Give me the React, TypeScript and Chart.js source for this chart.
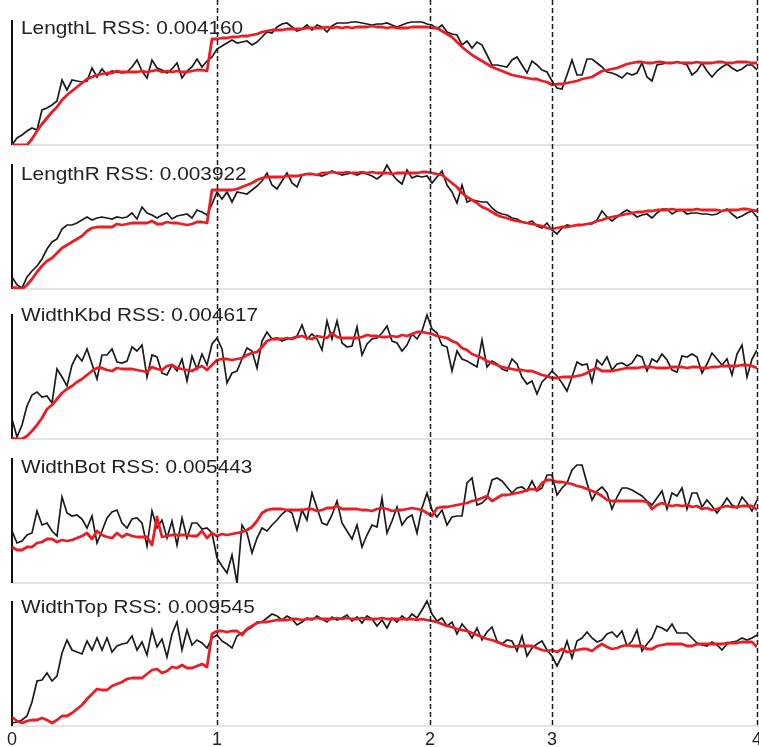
import React, { useEffect, useRef } from "react";
import { Chart, registerables } from "chart.js";

Chart.register(...registerables);

const FONT = '"Liberation Sans", Arial, Helvetica, sans-serif';

// x axis: sample index; phase boundaries labelled 0..4
const phaseTickSamples = [0, 41, 83.6, 108, 149];
const phaseTickLabels = ["0", "1", "2", "3", "4"];

const panelNames = ["LengthL", "LengthR", "WidthKbd", "WidthBot", "WidthTop"];
const panelRss = ["0.004160", "0.003922", "0.004617", "0.005443", "0.009545"];

// ---- LengthL ----
const lengthLMeasured = [
  0, 7, 10, 14, 17, 15, 35, 37, 40, 44,
  65, 55, 65, 64, 63, 64, 77, 68, 76, 70,
  74, 73, 72, 73, 78, 85, 74, 67, 85, 77,
  75, 72, 76, 82, 67, 74, 78, 86, 78, 84,
  88, 96, 99, 102, 105, 102, 103, 104, 100, 103,
  108, 113, 112, 118, 121, 122, 118, 114, 116, 120,
  115, 120, 118, 113, 119, 122, 122, 122, 123, 123,
  122, 121, 120, 121, 121, 122, 120, 118, 120, 122,
  123, 123, 123, 121, 120, 116, 120, 113, 111, 110,
  100, 104, 97, 103, 100, 90, 80, 80, 79, 78,
  85, 88, 80, 72, 84, 80, 75, 73, 64, 57,
  56, 70, 85, 70, 70, 86, 86, 82, 78, 73,
  72, 70, 67, 72, 70, 72, 82, 68, 64, 80,
  81, 82, 82, 83, 82, 80, 70, 74, 82, 74,
  68, 74, 78, 81, 77, 74, 76, 80, 80, 75,
];
const lengthLModel = [
  0, 0, 0, 0, 6, 14, 21, 27, 33, 38,
  45, 50, 54, 58, 62, 66, 68, 70, 71, 72,
  72, 74, 73, 73, 73, 73, 74, 73, 74, 75,
  73, 74, 73, 74, 73, 73, 74, 75, 75, 74,
  106, 106, 107, 107, 108, 108, 109, 109, 110, 111,
  113, 114, 115, 115, 115, 116, 116, 116, 116, 117,
  117, 117, 117, 118, 117, 118, 117, 118, 117, 118,
  118, 118, 119, 118, 118, 117, 118, 117, 117, 117,
  118, 118, 118, 118, 117, 117, 114, 111, 108, 103,
  98, 94, 90, 87, 84, 81, 78, 76, 74, 72,
  70, 69, 68, 67, 66, 66, 64, 63, 60, 61,
  61, 62, 63, 64, 66, 67, 68, 71, 74, 75,
  76, 77, 79, 81, 82, 83, 83, 82, 82, 83,
  83, 82, 82, 83, 82, 82, 82, 83, 82, 82,
  82, 83, 83, 82, 82, 83, 83, 83, 82, 82,
];

// ---- LengthR ----
const lengthRMeasured = [
  12, 4, 1, 12, 18, 23, 30, 40, 47, 50,
  60, 64, 64, 66, 69, 72, 69, 71, 72, 71,
  70, 72, 71, 72, 76, 70, 82, 76, 74, 71,
  74, 76, 70, 73, 74, 75, 71, 79, 77, 74,
  85, 97, 90, 97, 87, 97, 96, 95, 99, 103,
  108, 116, 104, 100, 108, 116, 106, 102, 114, 115,
  115, 114, 113, 115, 118, 116, 114, 115, 116, 114,
  116, 115, 113, 110, 114, 124, 115, 109, 105, 119,
  111, 113, 112, 113, 106, 112, 118, 104, 97, 86,
  104, 87, 89, 88, 87, 87, 81, 77, 75, 74,
  71, 70, 67, 66, 68, 63, 61, 66, 59, 55,
  61, 64, 63, 64, 64, 65, 65, 69, 78, 72,
  68, 72, 76, 79, 76, 72, 74, 75, 71, 76,
  80, 80, 75, 78, 79, 75, 76, 76, 75, 75,
  74, 75, 78, 80, 75, 71, 73, 76, 78, 72,
];
const lengthRModel = [
  2, 1, 0, 4, 10, 17, 23, 28, 31, 36,
  41, 44, 47, 50, 53, 58, 61, 62, 62, 62,
  62, 65, 64, 65, 66, 66, 66, 66, 68, 65,
  65, 67, 66, 66, 65, 64, 65, 67, 67, 66,
  99, 99, 99, 99, 99, 100, 102, 104, 106, 109,
  111, 112, 112, 112, 112, 113, 113, 113, 114, 115,
  115, 114, 116, 116, 117, 116, 116, 117, 116, 116,
  117, 116, 117, 116, 116, 116, 115, 116, 116, 116,
  116, 116, 117, 117, 116, 115, 114, 110, 106, 102,
  96, 92, 89, 86, 82, 80, 77, 74, 72, 71,
  69, 68, 67, 66, 65, 64, 63, 61, 60, 61,
  62, 62, 63, 64, 64, 65, 66, 68, 69, 71,
  72, 73, 74, 75, 76, 77, 77, 78, 78, 79,
  79, 79, 80, 79, 79, 79, 79, 80, 79, 79,
  79, 79, 78, 79, 79, 79, 80, 80, 79, 78,
];

// ---- WidthKbd ----
const widthKbdMeasured = [
  20, 2, 14, 33, 44, 47, 42, 43, 36, 70,
  62, 53, 74, 84, 78, 90, 75, 60, 84, 84,
  90, 77, 76, 78, 92, 88, 94, 62, 84, 82,
  66, 64, 74, 68, 80, 58, 83, 70, 85, 74,
  95, 101, 90, 56, 66, 68, 80, 91, 88, 71,
  98, 107, 100, 101, 98, 100, 101, 103, 114, 100,
  105, 100, 89, 118, 100, 118, 96, 92, 93, 112,
  84, 95, 100, 101, 106, 113, 98, 96, 88, 94,
  105, 100, 108, 124, 110, 106, 94, 92, 68, 88,
  80, 78, 75, 72, 99, 72, 78, 75, 70, 68,
  80, 75, 62, 55, 58, 45, 57, 62, 68, 63,
  56, 48, 62, 77, 74, 75, 57, 79, 74, 82,
  69, 75, 76, 73, 76, 84, 82, 68, 80, 77,
  85, 79, 69, 67, 83, 82, 85, 82, 66, 75,
  86, 80, 74, 80, 64, 85, 94, 62, 80, 89,
];
const widthKbdModel = [
  1, 0, 0, 3, 8, 14, 21, 30, 34, 40,
  46, 50, 53, 57, 60, 64, 68, 71, 71, 69,
  68, 71, 70, 70, 70, 69, 68, 67, 72, 70,
  69, 73, 74, 71, 70, 69, 68, 71, 73, 69,
  74, 79, 80, 80, 79, 80, 81, 84, 86, 87,
  92, 98, 100, 100, 100, 101, 100, 102, 103, 101,
  100, 103, 102, 101, 106, 102, 101, 101, 101, 101,
  102, 104, 103, 103, 102, 102, 103, 102, 104, 103,
  105, 107, 107, 106, 105, 103, 102, 101, 98, 96,
  91, 89, 85, 83, 81, 78, 76, 74, 72, 71,
  70, 69, 69, 68, 68, 66, 64, 63, 61, 61,
  62, 62, 62, 63, 64, 66, 69, 71, 68, 68,
  68, 69, 70, 71, 71, 71, 72, 72, 72, 71,
  71, 71, 72, 72, 72, 71, 72, 72, 71, 71,
  72, 72, 73, 73, 73, 73, 74, 74, 73, 71,
];

// ---- WidthBot ----
const widthBotMeasured = [
  52, 40, 42, 48, 50, 72, 58, 60, 52, 47,
  86, 70, 67, 68, 64, 55, 67, 40, 52, 65,
  71, 73, 60, 55, 64, 65, 60, 37, 72, 55,
  63, 45, 62, 38, 65, 45, 60, 60, 54, 55,
  50, 25, 17, 10, 28, 0, 58, 50, 30, 45,
  55, 52, 58, 63, 69, 73, 70, 53, 73, 63,
  90, 75, 60, 58, 68, 82, 60, 52, 44, 58,
  36, 48, 58, 56, 85, 50, 62, 76, 58, 65,
  68, 50, 75, 90, 73, 66, 73, 58, 66, 67,
  67, 100, 105, 78, 80, 85, 103, 105, 102, 96,
  90, 95, 96, 92, 102, 92, 95, 108, 108, 88,
  95, 100, 113, 118, 118, 100, 83, 92, 96, 90,
  74, 86, 95, 95, 93, 90, 87, 82, 78, 85,
  92, 74, 90, 87, 95, 74, 90, 90, 76, 83,
  77, 70, 77, 85, 78, 75, 86, 80, 72, 83,
];
const widthBotModel = [
  36, 33, 33, 36, 36, 40, 41, 44, 44, 41,
  43, 42, 43, 45, 47, 50, 44, 52, 48, 46,
  45, 50, 46, 49, 47, 46, 46, 46, 38, 66,
  46, 47, 48, 48, 48, 48, 47, 47, 52, 45,
  50, 47, 49, 48, 49, 50, 51, 53, 56, 62,
  70, 73, 74, 74, 74, 73, 73, 73, 73, 74,
  74, 72, 73, 75, 75, 77, 74, 74, 74, 74,
  73, 73, 72, 74, 75, 74, 72, 73, 73, 74,
  75, 74, 73, 70, 67, 75, 76, 76, 77, 78,
  79, 80, 82, 83, 85, 87, 82, 85, 88, 88,
  89, 90, 91, 93, 94, 93, 100, 103, 103, 101,
  101, 100, 99, 97, 96, 94, 92, 90, 87, 83,
  82, 82, 82, 82, 82, 82, 82, 81, 74, 78,
  80, 78, 77, 78, 77, 78, 76, 77, 74, 75,
  73, 74, 76, 77, 76, 76, 77, 77, 77, 73,
];

// ---- WidthTop ----
const widthTopMeasured = [
  3, 4, 6, 10, 24, 45, 46, 53, 45, 50,
  73, 86, 76, 74, 72, 85, 76, 88, 76, 88,
  74, 80, 82, 83, 90, 76, 84, 71, 96, 79,
  87, 69, 92, 104, 76, 96, 81, 86, 83, 78,
  88, 91, 85, 82, 78, 90, 93, 96, 99, 104,
  104, 108, 112, 110, 106, 110, 107, 101, 104, 108,
  106, 110, 107, 104, 109, 106, 108, 111, 105, 109,
  103, 110, 107, 100, 106, 98, 108, 104, 110, 106,
  112, 108, 116, 125, 112, 105, 108, 100, 104, 92,
  102, 96, 88, 98, 86, 94, 99, 85, 82, 86,
  85, 75, 90, 70, 78, 82, 85, 76, 70, 60,
  70, 85, 68, 85, 88, 94, 88, 84, 86, 92,
  94, 89, 95, 80, 85, 96, 75, 82, 88, 100,
  98, 95, 102, 93, 93, 93, 88, 83, 81, 80,
  84, 81, 76, 82, 84, 85, 88, 86, 88, 91,
];
const widthTopModel = [
  9, 5, 3, 5, 6, 6, 8, 6, 3, 6,
  10, 10, 13, 17, 21, 27, 32, 37, 36, 36,
  40, 42, 44, 47, 48, 48, 48, 52, 56, 57,
  53, 55, 59, 58, 61, 58, 58, 60, 62, 59,
  92, 95, 95, 94, 95, 95, 91, 97, 100, 103,
  104, 104, 105, 106, 106, 106, 107, 107, 106, 107,
  107, 108, 107, 107, 107, 108, 107, 108, 107, 107,
  108, 107, 107, 107, 108, 107, 107, 107, 107, 107,
  107, 106, 107, 106, 105, 104, 102, 100, 99, 97,
  96, 95, 93, 91, 89, 87, 86, 84, 82, 80,
  79, 80, 80, 80, 80, 78, 76, 75, 76, 74,
  77, 74, 75, 76, 77, 77, 75, 79, 82, 79,
  77, 78, 80, 81, 80, 80, 80, 77, 77, 80,
  81, 82, 82, 82, 82, 80, 80, 82, 82, 82,
  82, 82, 82, 83, 83, 83, 84, 84, 84, 79,
];

const measuredSeries = [lengthLMeasured, lengthRMeasured, widthKbdMeasured, widthBotMeasured, widthTopMeasured];
const modelSeries = [lengthLModel, lengthRModel, widthKbdModel, widthBotModel, widthTopModel];

// layout (style) constants
const PANEL_REGION = [145, 144, 150, 144, 143];
const PANEL_TOP = 125;
const TITLE_OFFSET = [14, 16, 7, 15, 12];
const RED = "#ec1c24";
const BLACK = "#1b1b1b";

const panelPlugin = {
  id: "panelFrames",
  beforeDatasetsDraw(chart: any) {
    const ctx = chart.ctx;
    const xs = chart.scales.x;
    const x0 = xs.getPixelForValue(0);
    const xEnd = chart.width;
    panelNames.forEach((name, k) => {
      const ys = chart.scales["p" + k];
      const yb = ys.getPixelForValue(0);
      const yt = ys.getPixelForValue(PANEL_TOP);
      ctx.save();
      ctx.strokeStyle = "#c8c8c8";
      ctx.lineWidth = 1.2;
      ctx.beginPath();
      ctx.moveTo(x0, yb);
      ctx.lineTo(xEnd, yb);
      ctx.stroke();
      ctx.strokeStyle = "#111";
      ctx.lineWidth = 2;
      ctx.beginPath();
      ctx.moveTo(x0, yt);
      ctx.lineTo(x0, yb);
      ctx.stroke();
      ctx.fillStyle = "#222";
      ctx.font = "18.5px " + FONT;
      ctx.textBaseline = "alphabetic";
      ctx.textAlign = "left";
      ctx.translate(x0 + 9, yt + TITLE_OFFSET[k]);
      ctx.scale(1.125, 1);
      ctx.fillText(name + " RSS: " + panelRss[k], 0, 0);
      ctx.restore();
    });
  },
  afterDatasetsDraw(chart: any) {
    const ctx = chart.ctx;
    const xs = chart.scales.x;
    ctx.save();
    ctx.strokeStyle = "#1a1a1a";
    ctx.lineWidth = 1.5;
    ctx.setLineDash([5, 3]);
    phaseTickSamples.slice(1).forEach((v) => {
      const px = Math.min(Math.round(xs.getPixelForValue(v)) + 0.5, chart.width - 1.5);
      ctx.beginPath();
      ctx.moveTo(px, 0);
      ctx.lineTo(px, chart.chartArea.bottom);
      ctx.stroke();
    });
    ctx.restore();
  },
};

export default function App() {
  const canvasRef = useRef<HTMLCanvasElement | null>(null);

  useEffect(() => {
    const canvas = canvasRef.current;
    if (!canvas) return;
    const datasets: any[] = [];
    const scales: any = {
      x: {
        type: "linear",
        min: 0,
        max: 149,
        position: "bottom",
        grid: { display: false, drawTicks: false },
        border: { display: false },
        afterBuildTicks: (s: any) => {
          s.ticks = phaseTickSamples.map((v) => ({ value: v }));
        },
        afterFit: (s: any) => {
          s.height = 21;
          s.paddingLeft = 0;
          s.paddingRight = 0;
        },
        ticks: {
          autoSkip: false,
          maxRotation: 0,
          padding: 3,
          color: "#222",
          font: { size: 18, family: FONT },
          callback: (v: any) => {
            const idx = phaseTickSamples.indexOf(v);
            return idx >= 0 ? phaseTickLabels[idx] : "";
          },
        },
      },
    };
    // left-positioned stacked axes are laid out in reverse order, so insert the
    // bottom panel first to get the first panel on top
    for (let k = panelNames.length - 1; k >= 0; k--) {
      scales["p" + k] = {
        type: "linear",
        position: "left",
        stack: "panels",
        stackWeight: PANEL_REGION[k],
        min: 0,
        max: PANEL_REGION[k],
        display: true,
        ticks: { display: false },
        grid: { display: false, drawTicks: false },
        border: { display: false },
        afterFit: (s: any) => {
          s.width = 0;
        },
      };
    }
    panelNames.forEach((name, k) => {
      const id = "p" + k;
      datasets.push({
        label: name + " model",
        data: modelSeries[k].map((v, i) => ({ x: i, y: v })),
        yAxisID: id,
        xAxisID: "x",
        borderColor: RED,
        backgroundColor: RED,
        borderWidth: 2.8,
        pointRadius: 0,
        tension: 0,
        borderJoinStyle: "round",
        order: 0,
      });
      datasets.push({
        label: name + " measured",
        data: measuredSeries[k].map((v, i) => ({ x: i, y: v })),
        yAxisID: id,
        xAxisID: "x",
        borderColor: BLACK,
        backgroundColor: BLACK,
        borderWidth: 1.7,
        pointRadius: 0,
        tension: 0,
        order: 1,
      });
    });

    const chart = new Chart(canvas, {
      type: "line",
      data: { datasets },
      options: {
        animation: false,
        responsive: false,
        maintainAspectRatio: false,
        devicePixelRatio: 1,
        layout: { padding: { left: 12, right: 2, top: 0, bottom: 0 } },
        plugins: { legend: { display: false }, tooltip: { enabled: false } },
        scales,
      } as any,
      plugins: [panelPlugin],
    });
    return () => chart.destroy();
  }, []);

  return (
    <div style={{ position: "absolute", left: 0, top: 0, width: 759, height: 747, background: "#fff" }}>
      <canvas ref={canvasRef} width={759} height={747} style={{ width: 759, height: 747, display: "block" }} />
    </div>
  );
}
